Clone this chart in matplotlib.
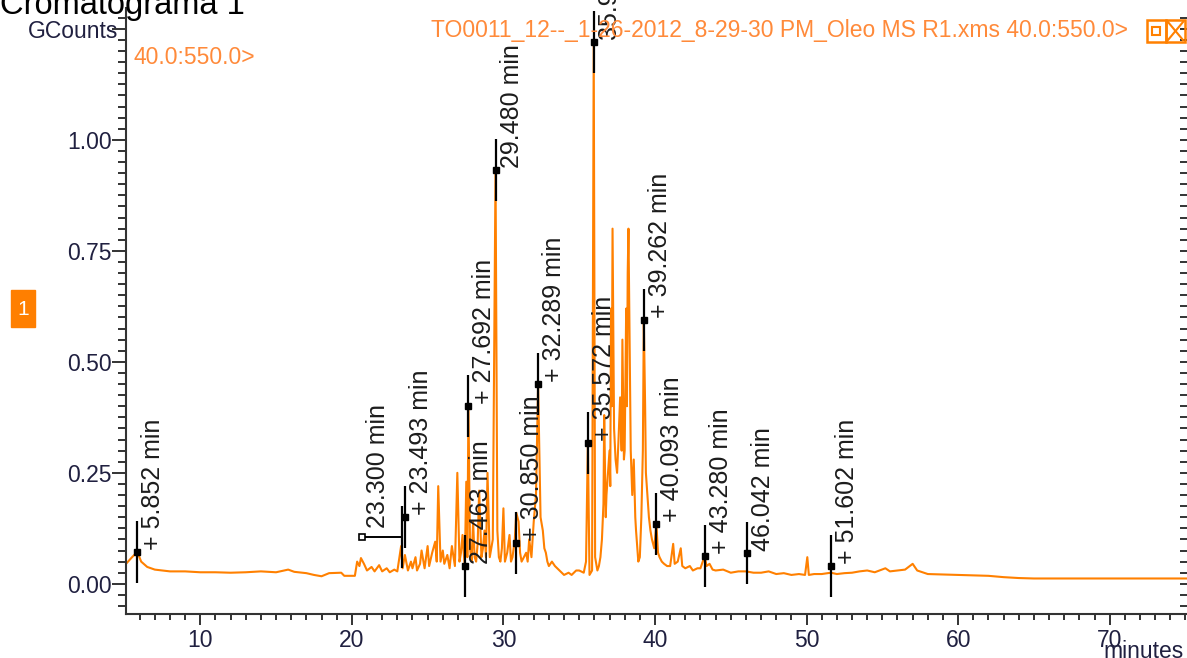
import matplotlib
matplotlib.use('Agg')
import matplotlib.pyplot as plt
from matplotlib.ticker import MultipleLocator, FixedLocator, FixedFormatter
from matplotlib.patches import Rectangle
from matplotlib.lines import Line2D

plt.rcParams['font.family'] = ['Liberation Sans', 'DejaVu Sans']

tempo = [5.1, 5.5, 5.85, 6.1, 6.5, 7.0, 8.0, 9.0, 10.0, 11.0,
         12.0, 13.0, 14.0, 15.0, 15.8, 16.2, 17.0, 17.5, 18.0, 18.5,
         19.3, 19.5, 20.2, 20.35, 20.5, 20.6, 20.8, 21.0, 21.3, 21.5,
         21.8, 22.0, 22.3, 22.5, 22.8, 23.0, 23.25, 23.35, 23.5, 23.7,
         23.9, 24.0, 24.2, 24.3, 24.5, 24.6, 24.8, 25.0, 25.1, 25.3,
         25.5, 25.6, 25.7, 25.85, 26.0, 26.1, 26.3, 26.45, 26.6, 26.8,
         26.96, 27.1, 27.2, 27.3, 27.45, 27.55, 27.62, 27.692, 27.8, 27.9,
         28.0, 28.1, 28.2, 28.3, 28.4, 28.55, 28.65, 28.75, 28.85, 28.95,
         29.1, 29.2, 29.3, 29.48, 29.6, 29.7, 29.8, 29.9, 30.0, 30.1,
         30.25, 30.4, 30.5, 30.6, 30.75, 30.85, 31.0, 31.1, 31.2, 31.35,
         31.5, 31.6, 31.7, 31.85, 32.0, 32.15, 32.289, 32.45, 32.6, 32.7,
         32.8, 32.9, 33.0, 33.2, 33.4, 33.7, 34.0, 34.3, 34.5, 34.8,
         35.0, 35.3, 35.45, 35.572, 35.68, 35.85, 35.958, 36.05, 36.2, 36.3,
         36.4, 36.5, 36.6, 36.65, 36.75, 36.8, 36.9, 37.0, 37.05, 37.1,
         37.15, 37.2, 37.3, 37.4, 37.5, 37.6, 37.7, 37.8, 37.85, 37.95,
         38.0, 38.1, 38.15, 38.2, 38.25, 38.35, 38.4, 38.5, 38.6, 38.7,
         38.75, 38.9, 39.0, 39.1, 39.2, 39.262, 39.35, 39.4, 39.5, 39.6,
         39.7, 39.8, 39.95, 40.093, 40.2, 40.3, 40.45, 40.6, 40.8, 41.0,
         41.2, 41.3, 41.5, 41.7, 41.8, 42.0, 42.3, 42.5, 42.8, 43.0,
         43.28, 43.4, 43.6, 43.8, 44.0, 44.5, 45.0, 45.5, 46.0, 46.5,
         47.0, 47.5, 48.0, 48.5, 49.0, 49.5, 49.9, 50.05, 50.15, 50.5,
         51.0, 51.6, 52.0, 52.5, 53.0, 53.5, 54.0, 54.5, 55.2, 55.5,
         56.0, 56.5, 57.0, 57.3, 58.0, 59.0, 60.0, 61.0, 62.0, 63.0,
         64.0, 65.0, 70.0, 75.1]
contagens = [0.045, 0.060, 0.072, 0.050, 0.038, 0.032, 0.028, 0.028, 0.026, 0.026,
             0.025, 0.026, 0.028, 0.026, 0.032, 0.027, 0.024, 0.020, 0.017, 0.024,
             0.025, 0.018, 0.018, 0.050, 0.040, 0.058, 0.045, 0.030, 0.038, 0.028,
             0.042, 0.028, 0.035, 0.026, 0.032, 0.028, 0.085, 0.035, 0.065, 0.030,
             0.050, 0.035, 0.060, 0.030, 0.045, 0.075, 0.035, 0.085, 0.040, 0.070,
             0.095, 0.050, 0.220, 0.050, 0.075, 0.045, 0.065, 0.035, 0.085, 0.040,
             0.250, 0.050, 0.070, 0.110, 0.040, 0.230, 0.060, 0.400, 0.080, 0.050,
             0.140, 0.060, 0.050, 0.090, 0.210, 0.060, 0.080, 0.120, 0.060, 0.250,
             0.060, 0.080, 0.100, 0.932, 0.120, 0.060, 0.050, 0.080, 0.170, 0.050,
             0.070, 0.110, 0.050, 0.060, 0.100, 0.160, 0.140, 0.070, 0.050, 0.060,
             0.070, 0.050, 0.100, 0.060, 0.140, 0.200, 0.450, 0.150, 0.120, 0.080,
             0.070, 0.050, 0.040, 0.050, 0.040, 0.030, 0.020, 0.025, 0.020, 0.030,
             0.030, 0.025, 0.050, 0.318, 0.020, 0.030, 1.220, 0.060, 0.030, 0.040,
             0.060, 0.100, 0.180, 0.380, 0.150, 0.200, 0.250, 0.300, 0.220, 0.620,
             0.400, 0.800, 0.350, 0.280, 0.250, 0.330, 0.420, 0.300, 0.550, 0.280,
             0.300, 0.620, 0.400, 0.700, 0.800, 0.450, 0.300, 0.200, 0.280, 0.150,
             0.120, 0.050, 0.060, 0.150, 0.300, 0.595, 0.400, 0.250, 0.200, 0.150,
             0.120, 0.100, 0.080, 0.135, 0.070, 0.060, 0.050, 0.045, 0.040, 0.040,
             0.090, 0.045, 0.050, 0.080, 0.040, 0.035, 0.040, 0.030, 0.035, 0.035,
             0.063, 0.040, 0.045, 0.032, 0.030, 0.032, 0.025, 0.028, 0.028, 0.025,
             0.025, 0.028, 0.022, 0.024, 0.020, 0.022, 0.020, 0.060, 0.020, 0.022,
             0.022, 0.025, 0.022, 0.024, 0.025, 0.028, 0.030, 0.026, 0.035, 0.028,
             0.030, 0.032, 0.045, 0.030, 0.022, 0.021, 0.020, 0.019, 0.018, 0.015,
             0.013, 0.012, 0.012, 0.012]

# Picos marcados
picos_tempo = [5.852, 23.300, 23.493, 27.463, 27.692, 29.480, 30.850, 32.289,
               35.572, 35.958, 39.262, 40.093, 43.280, 46.042, 51.602]
picos_altura = [0.072, 0.106, 0.151, 0.041, 0.401, 0.932, 0.092, 0.450,
                0.318, 1.221, 0.595, 0.135, 0.063, 0.070, 0.041]
picos_mais = [True, False, True, False, True, False, True, True,
              True, False, True, True, True, False, True]
# posição do rótulo (deslocada só no pico 23.300)
rotulo_tempo = [5.852, 20.7, 23.493, 27.463, 27.692, 29.480, 30.850, 32.289,
                35.572, 35.958, 39.262, 40.093, 43.280, 46.042, 51.602]

xticks = [10, 20, 30, 40, 50, 60, 70]
yticks = [0.0, 0.25, 0.50, 0.75, 1.00, 1.25]
ytick_labels = ['0.00', '0.25', '0.50', '0.75', '1.00', '']

W, H = 1187, 658
laranja = '#ff8000'
laranja_txt = '#ff8a3a'
azul_txt = '#202040'
cinza = '#333333'

fig = plt.figure(figsize=(W / 100, H / 100), dpi=100)
ax = fig.add_axes([126 / W, 1 - 614 / H, 1 - 126 / W, (614 - 8) / H])

ax.plot(tempo, contagens, color=laranja, lw=1.5, zorder=2)

meia = 0.07
for t, h, mais, tr in zip(picos_tempo, picos_altura, picos_mais, rotulo_tempo):
    ax.vlines(t, h - meia, h + meia, color='black', lw=1.6, zorder=4)
    if tr != t:
        ax.plot([tr, t], [h, h], color='black', lw=1.4, zorder=4)
        ax.plot(tr, h, 's', mfc='white', mec='black', ms=5, mew=1.2, zorder=5)
        ly = h + 0.015
    else:
        ax.plot(t, h, 's', color='black', ms=5, zorder=5)
        ly = h
    txt = ('+ ' if mais else '') + '%.3f min' % t
    ax.annotate(txt, (tr, ly), xytext=(16, 2), textcoords='offset pixels',
                rotation=90, ha='center', va='bottom', fontsize=18,
                color='#1c1c1c', zorder=6, annotation_clip=False)

ax.set_xlim(5.1, 75.1)
ax.set_ylim(-0.068, 1.297)
ax.xaxis.set_major_locator(FixedLocator(xticks))
ax.xaxis.set_minor_locator(MultipleLocator(1))
ax.yaxis.set_major_locator(FixedLocator(yticks))
ax.yaxis.set_major_formatter(FixedFormatter(ytick_labels))
ax.yaxis.set_minor_locator(MultipleLocator(0.025))

for s in ['top', 'right']:
    ax.spines[s].set_visible(False)
for s in ['left', 'bottom']:
    ax.spines[s].set_linewidth(1.5)
    ax.spines[s].set_color(cinza)

ax.tick_params(axis='x', which='major', length=8, width=1.4, pad=3,
               labelsize=16.5, labelcolor=azul_txt, color=cinza)
ax.tick_params(axis='x', which='minor', length=4.5, width=1.4, color=cinza)
ax.tick_params(axis='y', which='major', length=10, width=1.4, pad=0,
               labelsize=16.5, labelcolor=azul_txt, color=cinza)
ax.tick_params(axis='y', which='minor', length=5.5, width=1.4, color=cinza)

# ticks do lado direito, para dentro
ax2 = ax.twinx()
ax2.set_ylim(ax.get_ylim())
ax2.yaxis.set_major_locator(FixedLocator(yticks))
ax2.yaxis.set_minor_locator(MultipleLocator(0.025))
ax2.tick_params(axis='y', which='both', direction='in', length=5, width=1.4,
                labelright=False, color=cinza)
for s in ax2.spines.values():
    s.set_visible(False)

# textos do cabeçalho
fig.text(0.0, 1 - 14 / H, 'Cromatograma 1', fontsize=23.5, ha='left',
         va='baseline', color='black')
fig.text(118 / W, 1 - 32 / H, 'GCounts', fontsize=16.5, ha='right',
         va='center', color=azul_txt)
fig.text(1128 / W, 1 - 31 / H,
         'TO0011_12--_1-26-2012_8-29-30 PM_Oleo MS R1.xms 40.0:550.0>',
         fontsize=16.5, ha='right', va='center', color=laranja_txt)
fig.text(133 / W, 1 - 58 / H, '40.0:550.0>', fontsize=16.5, ha='left',
         va='center', color=laranja_txt)
fig.text(1184 / W, 1 - 652 / H, 'minutes', fontsize=16.5, ha='right',
         va='center', color=azul_txt)

# caixa "1" e ícones
fig.add_artist(Rectangle((11 / W, 1 - 327 / H), 24 / W, 37 / H,
                         transform=fig.transFigure, color='#ff7f00'))
fig.text(23 / W, 1 - 309 / H, '1', fontsize=15, color='white',
         ha='center', va='center')
for x0 in [1147, 1166]:
    fig.add_artist(Rectangle((x0 / W, 1 - 42 / H), 19 / W, 22 / H,
                             transform=fig.transFigure, fill=False,
                             ec=laranja, lw=1.8))
fig.add_artist(Rectangle((1152 / W, 1 - 35 / H), 8 / W, 8 / H,
                         transform=fig.transFigure, fill=False,
                         ec=laranja, lw=1.5))
fig.add_artist(Line2D([1168 / W, 1183 / W], [1 - 22 / H, 1 - 40 / H],
                      transform=fig.transFigure, color=laranja, lw=1.5))
fig.add_artist(Line2D([1168 / W, 1183 / W], [1 - 40 / H, 1 - 22 / H],
                      transform=fig.transFigure, color=laranja, lw=1.5))

fig.savefig('out.png', dpi=100)
